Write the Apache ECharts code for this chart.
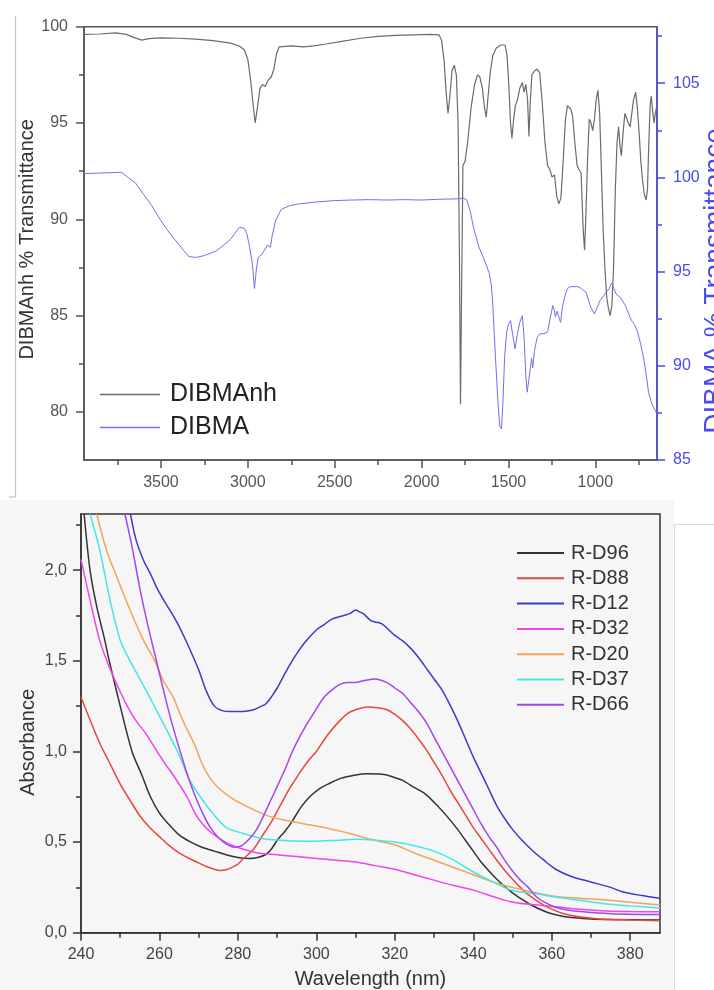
<!DOCTYPE html>
<html>
  <head>
    <meta charset="utf-8" />
    <title>DIBMA spectra</title>
    <script src="https://cdn.jsdelivr.net/npm/echarts@6.0.0/dist/echarts.min.js"></script>
    <style>
      html, body { margin: 0; padding: 0; background: #fff; }
    </style>
  </head>
  <body>
    <div id="main" style="width: 714px; height: 990px"></div>

    <script type="text/javascript">
      // ---- FTIR (top panel) ----
      const anhWn = [3943, 3850, 3760, 3700, 3650, 3610, 3570, 3500, 3400, 3300, 3200, 3100, 3050, 3020, 3000, 2985, 2970, 2958, 2945, 2930, 2915, 2900, 2885, 2865, 2850, 2835, 2820, 2750, 2680, 2620, 2550, 2450, 2350, 2250, 2150, 2050, 1950, 1900, 1885, 1870, 1858, 1848, 1838, 1825, 1812, 1800, 1790, 1782, 1776, 1770, 1762, 1750, 1735, 1715, 1695, 1678, 1665, 1650, 1638, 1628, 1618, 1605, 1590, 1570, 1545, 1520, 1508, 1498, 1488, 1480, 1470, 1460, 1448, 1435, 1420, 1410, 1400, 1390, 1382, 1375, 1365, 1350, 1335, 1320, 1305, 1290, 1275, 1262, 1250, 1235, 1222, 1210, 1198, 1185, 1172, 1160, 1150, 1140, 1130, 1118, 1105, 1095, 1082, 1070, 1062, 1055, 1045, 1035, 1025, 1015, 1005, 995, 985, 975, 965, 955, 945, 935, 925, 915, 905, 895, 885, 875, 866, 858, 850, 840, 830, 820, 810, 800, 790, 780, 768, 758, 748, 738, 728, 718, 708, 700, 692, 684, 678, 670, 662, 655, 648]
      const anhT = [99.6, 99.62, 99.68, 99.6, 99.42, 99.3, 99.38, 99.42, 99.4, 99.35, 99.28, 99.15, 99.0, 98.8, 98.3, 97.3, 96.0, 95.0, 95.8, 96.8, 97.0, 96.9, 97.2, 97.4, 97.8, 98.6, 98.95, 99.0, 98.95, 99.0, 99.1, 99.25, 99.4, 99.5, 99.55, 99.58, 99.6, 99.58, 99.3, 98.2, 96.5, 95.5, 96.3, 97.7, 98.0, 97.5, 95.0, 88.0, 80.4, 86.0, 92.8, 93.0, 94.0, 95.8, 97.0, 97.5, 97.4, 96.8, 95.8, 95.3, 96.3, 97.6, 98.5, 98.9, 99.05, 99.05, 98.5, 97.0, 95.0, 94.2, 95.2, 95.9, 96.2, 96.8, 97.1, 96.6, 97.0, 96.2, 94.3, 96.0, 97.5, 97.7, 97.8, 97.6, 96.0, 94.0, 92.8, 92.6, 92.2, 92.3, 91.2, 90.8, 91.1, 93.0, 95.2, 95.9, 95.9, 95.7, 95.3, 94.0, 92.8, 92.6, 92.4, 89.5, 88.4, 90.0, 93.0, 95.2, 95.0, 94.6, 95.2, 96.2, 96.7, 95.5, 92.5, 89.5, 87.5, 86.0, 85.4, 85.0, 85.5, 87.5, 91.5, 94.0, 94.8, 93.8, 93.3, 94.5, 95.5, 95.6, 95.0, 94.8, 95.5, 96.2, 96.6, 95.8, 94.5, 93.0, 92.0, 91.3, 91.0, 91.5, 94.0, 96.0, 96.4, 95.6, 95.0, 95.5, 95.8]

      const acidWn = [3943, 3800, 3726, 3690, 3646, 3600, 3553, 3500, 3447, 3394, 3340, 3300, 3250, 3181, 3140, 3101, 3048, 3020, 3005, 2990, 2975, 2962, 2950, 2940, 2920, 2888, 2870, 2860, 2840, 2808, 2760, 2702, 2600, 2500, 2400, 2300, 2200, 2100, 2000, 1900, 1800, 1760, 1739, 1720, 1700, 1691, 1670, 1651, 1630, 1610, 1598, 1590, 1575, 1560, 1550, 1540, 1532, 1522, 1510, 1500, 1488, 1475, 1462, 1450, 1435, 1420, 1410, 1400, 1392, 1385, 1375, 1367, 1360, 1350, 1335, 1319, 1295, 1275, 1260, 1245, 1237, 1230, 1220, 1212, 1200, 1188, 1172, 1160, 1146, 1120, 1100, 1080, 1053, 1040, 1026, 1005, 990, 973, 946, 920, 906, 893, 880, 866, 853, 840, 827, 810, 792, 775, 760, 740, 720, 705, 694, 675, 660, 648]
      const acidT = [100.2, 100.25, 100.27, 100.0, 99.7, 99.1, 98.5, 97.7, 97.0, 96.4, 95.8, 95.75, 95.85, 96.1, 96.4, 96.7, 97.35, 97.3, 97.0, 96.3, 95.5, 94.1, 95.2, 95.76, 95.9, 96.4, 96.3, 96.9, 97.7, 98.3, 98.5, 98.6, 98.7, 98.77, 98.8, 98.82, 98.8, 98.82, 98.8, 98.84, 98.86, 98.9, 98.8, 98.2, 97.3, 97.0, 96.3, 95.9, 95.4, 94.9, 94.25, 93.2, 90.5, 88.0, 86.8, 86.65, 88.0, 90.5, 91.8, 92.2, 92.4, 91.6, 90.9, 91.6, 92.3, 92.66, 91.5, 89.5, 88.6, 88.5, 89.8, 90.4, 89.9, 90.8, 91.5, 91.7, 91.7, 91.8, 92.5, 93.2, 93.0, 92.6, 92.9, 92.8, 92.3, 93.2, 93.8, 94.1, 94.2, 94.2, 94.2, 94.1, 93.9, 93.5, 93.1, 92.75, 93.1, 93.46, 93.8, 94.1, 94.4, 94.1, 93.8, 93.7, 93.6, 93.4, 93.2, 92.8, 92.4, 92.2, 91.9, 91.2, 90.3, 89.4, 88.6, 88.0, 87.7, 87.5]

      const ftirXMajor = [1000, 1500, 2000, 2500, 3000, 3500]
      const ftirXMinor = [750, 1250, 1750, 2250, 2750, 3250, 3750]
      const anhYMajor = [80, 85, 90, 95, 100]
      const anhYMinor = [82.5, 87.5, 92.5, 97.5]
      const acidYMajor = [85, 90, 95, 100, 105]
      const acidYMinor = [87.5, 92.5, 97.5, 102.5, 107.5]

      // ---- UV-Vis (bottom panel) ----
      const d96Nm = [240.8, 242.3, 244, 246, 247.2, 250, 253, 255.5, 257.7, 260, 262.3, 265, 268, 271, 274, 277, 280, 283, 285, 287, 288.5, 290, 292, 293.7, 296, 298.3, 300.5, 303, 306, 310, 313, 316, 318, 320, 322, 325, 327.5, 330, 333, 336, 338, 340, 342, 344, 346, 348, 350, 352, 355, 358, 360, 363, 366, 370, 375, 387.6]
      const d96Abs = [2.31, 2.0, 1.8, 1.62, 1.5, 1.25, 1.0, 0.87, 0.75, 0.66, 0.6, 0.54, 0.5, 0.47, 0.45, 0.43, 0.415, 0.41, 0.415, 0.43, 0.46, 0.51, 0.56, 0.61, 0.69, 0.75, 0.79, 0.82, 0.85, 0.87, 0.877, 0.875, 0.87, 0.855, 0.84, 0.8, 0.77, 0.72, 0.65, 0.57, 0.51, 0.45, 0.39, 0.34, 0.295, 0.255, 0.22, 0.19, 0.15, 0.12, 0.105, 0.09, 0.082, 0.076, 0.073, 0.07]

      const d88Nm = [240, 242, 244.9, 247, 250, 252.5, 255, 257.5, 260, 262.5, 265, 268, 270, 272, 274, 275.5, 277, 278.5, 280, 281, 282.5, 284, 285.5, 287, 288.5, 290, 291.5, 293, 294.5, 296, 298, 300, 303, 306, 308, 310, 313, 316, 318, 320, 322, 324, 326, 328, 330, 332, 334, 336, 338, 340, 342, 344, 346, 348, 350, 352, 354, 357, 360, 363, 367, 372, 380, 387.6]
      const d88Abs = [1.3, 1.19, 1.04, 0.95, 0.82, 0.73, 0.645, 0.58, 0.53, 0.48, 0.44, 0.405, 0.385, 0.365, 0.35, 0.343, 0.347, 0.36, 0.378, 0.4, 0.43, 0.46, 0.51, 0.56, 0.61, 0.67, 0.73, 0.79, 0.84, 0.89, 0.95, 1.0, 1.095, 1.17, 1.21, 1.23, 1.245, 1.24, 1.23, 1.205, 1.17, 1.125, 1.07, 1.01, 0.94, 0.87, 0.79, 0.72, 0.65, 0.58, 0.52, 0.46, 0.4, 0.345, 0.295, 0.25, 0.21, 0.165, 0.13, 0.105, 0.088, 0.076, 0.07, 0.066]

      const d12Nm = [252.6, 254, 255.9, 257.7, 259.4, 261.5, 263.5, 265, 267, 270, 272, 274, 276, 278, 280, 282, 284, 286, 287, 288.5, 290, 291.5, 293, 295, 297, 300, 302, 304, 307, 308.5, 310, 311, 312, 314, 316, 317, 318.5, 320, 322, 324, 326, 328, 330, 332, 334, 336, 338, 340, 342, 344, 346, 348, 350, 352, 355, 358, 361, 365, 370, 375, 378, 383, 387.6]
      const d12Abs = [2.31, 2.17, 2.056, 1.98, 1.9, 1.82, 1.75, 1.69, 1.6, 1.45, 1.33, 1.25, 1.225, 1.22, 1.22, 1.222, 1.23, 1.25, 1.26, 1.3, 1.35, 1.41, 1.47, 1.54, 1.6, 1.67, 1.7, 1.73, 1.75, 1.76, 1.78, 1.77, 1.76, 1.72, 1.71, 1.7, 1.67, 1.64, 1.61, 1.57, 1.52, 1.46, 1.4, 1.34, 1.26, 1.17, 1.07, 0.97, 0.88, 0.79, 0.7, 0.63, 0.57, 0.52, 0.455, 0.4, 0.35, 0.31, 0.28, 0.25, 0.226, 0.205, 0.19]

      const d32Nm = [240, 242.3, 244.8, 247.5, 250, 251.8, 254, 256.5, 259.4, 261.5, 263.5, 265, 267, 269.3, 271, 273.3, 276.8, 280, 285, 290, 295, 300, 305, 310, 315, 320, 325, 330, 335, 340, 345, 349.5, 355, 361, 367, 374, 380, 387.6]
      const d32Abs = [2.06, 1.835, 1.61, 1.45, 1.33, 1.25, 1.17, 1.1, 1.0, 0.93, 0.87, 0.82, 0.75, 0.65, 0.6, 0.55, 0.5, 0.47, 0.44, 0.43, 0.42, 0.41, 0.4, 0.39, 0.37, 0.35, 0.32, 0.29, 0.26, 0.235, 0.2, 0.171, 0.155, 0.143, 0.13, 0.12, 0.117, 0.115]

      const d20Nm = [244, 246.5, 249.1, 252.5, 255.9, 258.8, 261, 263.5, 265, 266.4, 268, 269.3, 270.5, 271.6, 273, 275, 278.6, 282, 287, 292, 297, 302, 305, 308, 313, 316, 320, 325, 330, 335, 340, 345, 349, 355, 361, 367, 374, 380, 387.6]
      const d20Abs = [2.31, 2.11, 1.964, 1.78, 1.614, 1.5, 1.39, 1.3, 1.22, 1.15, 1.08, 1.02, 0.95, 0.9, 0.85, 0.8, 0.74, 0.7, 0.65, 0.62, 0.6, 0.58, 0.565, 0.55, 0.52, 0.505, 0.485, 0.44, 0.4, 0.36, 0.32, 0.28, 0.255, 0.225, 0.2, 0.19, 0.18, 0.168, 0.153]

      const d37Nm = [242.3, 244.8, 247.4, 250, 252, 254.5, 257, 259.4, 262.3, 264.6, 266, 267.5, 270.4, 273.9, 277, 281, 286, 291, 296, 300, 305, 310, 315, 320, 325, 330, 335, 340, 345, 349, 352, 356, 360, 365, 370, 374, 380, 387.6]
      const d37Abs = [2.31, 2.11, 1.835, 1.614, 1.52, 1.42, 1.32, 1.22, 1.1, 1.0, 0.93, 0.85, 0.75, 0.65, 0.58, 0.55, 0.52, 0.51, 0.505, 0.505, 0.51, 0.515, 0.51, 0.5, 0.48, 0.45, 0.4, 0.335, 0.28, 0.24, 0.225, 0.215, 0.2, 0.185, 0.17, 0.158, 0.148, 0.136]

      const d66Nm = [251.2, 253, 255, 257, 259, 261, 263, 265, 267, 269, 271, 273, 275, 277, 279, 281, 283, 284.5, 286, 287.5, 289, 290.5, 292, 293.5, 295, 297, 299, 302, 304, 306, 308, 310, 312, 315, 318, 320, 322, 324, 326, 328, 330, 332, 334, 336, 338, 340, 342, 344, 346, 348, 350, 352, 354, 356, 358, 361, 364, 368, 375, 387.6]
      const d66Abs = [2.31, 2.13, 1.9, 1.7, 1.52, 1.34, 1.17, 1.02, 0.88, 0.76, 0.66, 0.58, 0.525, 0.49, 0.472, 0.48, 0.52, 0.56, 0.62, 0.69, 0.76, 0.83, 0.9, 0.98, 1.05, 1.13, 1.2, 1.3, 1.34, 1.37, 1.38, 1.38, 1.39, 1.4, 1.38, 1.35, 1.32, 1.27, 1.22, 1.16, 1.08, 1.0, 0.92, 0.84, 0.76, 0.68, 0.6, 0.53, 0.47, 0.4, 0.34, 0.29, 0.25, 0.2, 0.17, 0.14, 0.125, 0.115, 0.105, 0.1]

      const uvNames = ['R-D96', 'R-D88', 'R-D12', 'R-D32', 'R-D20', 'R-D37', 'R-D66']
      const uvColors = ['#333333', '#e5483f', '#3c3cc8', '#ec46ec', '#f2a35c', '#46e6e6', '#a446ee']
      const uvNm = [d96Nm, d88Nm, d12Nm, d32Nm, d20Nm, d37Nm, d66Nm]
      const uvAbs = [d96Abs, d88Abs, d12Abs, d32Abs, d20Abs, d37Abs, d66Abs]

      const uvXMajor = [240, 260, 280, 300, 320, 340, 360, 380]
      const uvXMinor = [250, 270, 290, 310, 330, 350, 370]
      const uvYMajor = [0, 0.5, 1, 1.5, 2]
      const uvYLabels = ['0,0', '0,5', '1,0', '1,5', '2,0']
      const uvYMinor = [0.25, 0.75, 1.25, 1.75, 2.25]

      const FONT = '"Liberation Sans", Arial, sans-serif'
      const ACID_BLUE = '#4a4aef'

      function pairs(xs, ys) {
        return xs.map((x, i) => [x, ys[i]])
      }

      // one axis with the big ticks + labels, a twin with only the small ticks
      function axisPair(o) {
        const base = {
          type: 'value',
          gridIndex: o.grid,
          position: o.pos,
          min: o.min,
          max: o.max,
          inverse: !!o.inverse,
          splitLine: { show: false },
        }
        const major = Object.assign({}, base, {
          axisLine: { show: true, onZero: false, lineStyle: { color: o.color, width: 1.5 } },
          axisTick: { show: true, customValues: o.major, length: 8, lineStyle: { color: o.color, width: 1.5 } },
          axisLabel: {
            show: true,
            customValues: o.major,
            formatter: o.fmt || ((v) => String(v)),
            fontSize: 16,
            fontFamily: FONT,
            color: o.labelColor || o.color,
            margin: o.margin || 12,
          },
          name: o.name || '',
          nameLocation: 'middle',
          nameGap: o.nameGap || 30,
          nameMoveOverlap: !!o.moveOverlap,
          nameRotate: o.nameRotate == null ? null : o.nameRotate,
          nameTextStyle: { fontSize: 20, fontFamily: FONT, color: o.nameColor || '#333', padding: o.namePad || 0 },
        })
        const minor = Object.assign({}, base, {
          axisLine: { show: false, onZero: false },
          axisTick: { show: true, customValues: o.minor, length: 5, lineStyle: { color: o.color, width: 1.5 } },
          axisLabel: { show: false },
        })
        return [major, minor]
      }

      const xAxes = [].concat(
        axisPair({ grid: 0, pos: 'bottom', min: 645, max: 3943, inverse: true, major: ftirXMajor, minor: ftirXMinor, color: '#555', margin: 15 }),
        axisPair({ grid: 1, pos: 'bottom', min: 240, max: 387.6, major: uvXMajor, minor: uvXMinor, color: '#333', labelColor: '#444', margin: 14, name: 'Wavelength (nm)', nameGap: 37, moveOverlap: true })
      )
      const yAxes = [].concat(
        axisPair({ grid: 0, pos: 'left', min: 77.5, max: 100, major: anhYMajor, minor: anhYMinor, color: '#555', margin: 16, name: 'DIBMAnh % Transmittance', nameGap: 47, nameRotate: 90, namePad: [0, 0, 0, 8] }),
        axisPair({ grid: 0, pos: 'right', min: 85, max: 108, major: acidYMajor, minor: acidYMinor, color: ACID_BLUE, margin: 16 }),
        axisPair({
          grid: 1, pos: 'left', min: 0, max: 2.31, major: uvYMajor, minor: uvYMinor, color: '#333', labelColor: '#444', margin: 14,
          fmt: (v) => uvYLabels[uvYMajor.indexOf(v)], name: 'Absorbance', nameGap: 43, nameRotate: 90, namePad: [0, 38, 0, 0],
        })
      )

      const series = [
        {
          name: 'DIBMAnh', type: 'line', xAxisIndex: 0, yAxisIndex: 0,
          data: pairs(anhWn, anhT), symbol: 'none', color: '#6b6b6b', lineStyle: { width: 1.2 },
        },
        {
          name: 'DIBMA', type: 'line', xAxisIndex: 0, yAxisIndex: 2,
          data: pairs(acidWn, acidT), symbol: 'none', color: '#7070f2', lineStyle: { width: 1 },
        },
      ]
      uvNames.forEach((name, i) => {
        series.push({
          name, type: 'line', xAxisIndex: 2, yAxisIndex: 4,
          data: pairs(uvNm[i], uvAbs[i]), symbol: 'none', smooth: 0.3,
          color: uvColors[i], lineStyle: { width: 1.5 },
        })
      })

      var myChart = echarts.init(document.getElementById('main'), null, { renderer: 'canvas' })

      option = {
        backgroundColor: '#ffffff',
        animation: false,
        textStyle: { fontFamily: FONT },
        grid: [
          { left: 84, right: 57, top: 26.7, bottom: 530, outerBoundsMode: 'none', show: true, borderColor: '#555', borderWidth: 1.5, backgroundColor: 'transparent' },
          { left: 81, right: 54, top: 514, bottom: 57.3, outerBoundsMode: 'none', show: true, borderColor: '#333', borderWidth: 1.5, backgroundColor: 'transparent' },
        ],
        xAxis: xAxes,
        yAxis: yAxes,
        legend: [
          {
            data: ['DIBMAnh', 'DIBMA'], orient: 'vertical', left: 95, top: 377, icon: 'rect', itemWidth: 60, itemHeight: 1.5, itemGap: 8,
            selectedMode: false, textStyle: { fontSize: 25, color: '#222', fontFamily: FONT, padding: [0, 0, 0, 5] },
          },
          {
            data: uvNames, orient: 'vertical', left: 512, top: 538, icon: 'rect', itemWidth: 47, itemHeight: 2, itemGap: 5.3,
            selectedMode: false, textStyle: { fontSize: 20, color: '#333', fontFamily: FONT, padding: [0, 0, 0, 2] },
          },
        ],
        graphic: [
          { type: 'rect', z: -10, silent: true, shape: { x: 0, y: 500, width: 674, height: 490 }, style: { fill: '#f6f6f6' } },
          { type: 'rect', z: -9, silent: true, shape: { x: 674.5, y: 524.5, width: 50, height: 480 }, style: { fill: '#ffffff', stroke: '#dcdcdc', lineWidth: 1 } },
          { type: 'line', z: -9, silent: true, shape: { x1: 15.5, y1: 16, x2: 15.5, y2: 497 }, style: { stroke: '#c4c4c4', lineWidth: 1.2 } },
          { type: 'line', z: -9, silent: true, shape: { x1: 9, y1: 497, x2: 15.5, y2: 497 }, style: { stroke: '#c4c4c4', lineWidth: 1.2 } },
          // right-hand axis title, cut by the image edge as in the original figure
          {
            type: 'text', silent: true, x: 701, y: 281, rotation: Math.PI / 2,
            style: { text: 'DIBMA % Transmittance', font: '28px ' + FONT, fill: ACID_BLUE, align: 'center', verticalAlign: 'top' },
          },
        ],
        series,
      }

      myChart.setOption(option)
    </script>
  </body>
</html>
